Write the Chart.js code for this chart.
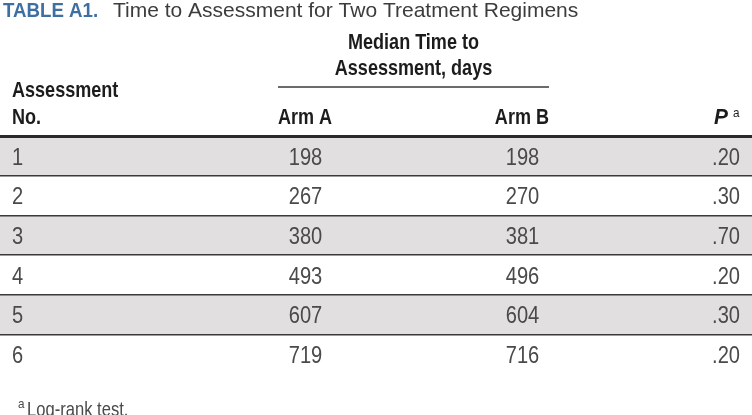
<!DOCTYPE html>
<html>
<head>
<meta charset="utf-8">
<script src="https://cdn.jsdelivr.net/npm/chart.js@4.4.0/dist/chart.umd.min.js"></script>
<style>
  html, body { margin: 0; padding: 0; background: #fff; }
  #wrap { width: 752px; height: 415px; }
</style>
</head>
<body>
<div id="wrap"><canvas id="tableChart" width="752" height="415"></canvas></div>
<script>
// Table values
const assessments = ['1', '2', '3', '4', '5', '6'];
const armA = [198, 267, 380, 493, 607, 719];
const armB = [198, 270, 381, 496, 604, 716];
const pValues = ['.20', '.30', '.70', '.20', '.30', '.20'];

// Texts
const titleLabel = 'TABLE A1.';
const titleText = 'Time to Assessment for Two Treatment Regimens';
const groupHeader = ['Median Time to', 'Assessment, days'];
const rowHeader = ['Assessment', 'No.'];
const armLabels = ['Arm A', 'Arm B'];
const footnote = 'Log-rank test.';

const family = "'Liberation Sans', Arial, sans-serif";
const NARROW = 0.82; // horizontal squeeze, Arial Narrow style
const colors = {
    title: '#3e6fa3',
    titleText: '#3c3c3c',
    head: '#1c1c1c',
    body: '#4a4a4a',
    shade: '#e1dfe0',
    rule: '#3a3a3a',
    thick: '#2a2a2a'
};

// column anchors as a fraction of the table width
const cols = {
    no: 12 / 752,
    armA: 305.5 / 752,
    armB: 522.5 / 752,
    p: 740 / 752,
    groupL: 278 / 752,
    groupR: 549 / 752,
    pLabel: 728 / 752
};

function drawText(ctx, text, x, y, font, align, sx) {
    ctx.save();
    ctx.translate(x, y);
    ctx.scale(sx, 1);
    ctx.font = font;
    ctx.textAlign = align;
    ctx.fillText(text, 0, 0);
    ctx.restore();
}

// Draws the header, cells and footnote on top of the row bands
const tableText = {
    id: 'tableText',
    afterDraw(chart) {
        const { ctx, scales: { x, y } } = chart;
        const px = f => x.getPixelForValue(f);
        ctx.save();
        ctx.textBaseline = 'alphabetic';

        // title
        ctx.fillStyle = colors.title;
        drawText(ctx, titleLabel, 3, 17, `bold 21px ${family}`, 'left', 0.89);
        ctx.fillStyle = colors.titleText;
        drawText(ctx, titleText, 113, 17, `21px ${family}`, 'left', 1);

        // header
        ctx.fillStyle = colors.head;
        const headFont = `bold 22px ${family}`;
        const groupMid = (px(cols.groupL) + px(cols.groupR)) / 2;
        drawText(ctx, groupHeader[0], groupMid, 49, headFont, 'center', NARROW);
        drawText(ctx, groupHeader[1], groupMid, 75, headFont, 'center', NARROW);

        ctx.strokeStyle = colors.rule;
        ctx.lineWidth = 1.5;
        ctx.beginPath();
        ctx.moveTo(px(cols.groupL), 87);
        ctx.lineTo(px(cols.groupR), 87);
        ctx.stroke();

        drawText(ctx, rowHeader[0], px(cols.no), 97, headFont, 'left', NARROW);
        drawText(ctx, rowHeader[1], px(cols.no), 124, headFont, 'left', NARROW);
        drawText(ctx, armLabels[0], px(cols.groupL), 124, headFont, 'left', NARROW);
        drawText(ctx, armLabels[1], px(cols.groupR), 124, headFont, 'right', NARROW);
        drawText(ctx, 'P', px(cols.pLabel), 124, `italic bold 22px ${family}`, 'right', 0.95);
        drawText(ctx, 'a', px(cols.pLabel) + 5, 117, `13px ${family}`, 'left', 0.9);

        // cells
        ctx.fillStyle = colors.body;
        const bodyFont = `24.5px ${family}`;
        assessments.forEach((no, i) => {
            const base = y.getPixelForValue(i) + 8.8;
            drawText(ctx, no, px(cols.no), base, bodyFont, 'left', NARROW);
            drawText(ctx, String(armA[i]), px(cols.armA), base, bodyFont, 'center', NARROW);
            drawText(ctx, String(armB[i]), px(cols.armB), base, bodyFont, 'center', NARROW);
            drawText(ctx, pValues[i], px(cols.p), base, bodyFont, 'right', NARROW);
        });

        // footnote
        drawText(ctx, 'a', 18, 408, `13px ${family}`, 'left', 0.9);
        drawText(ctx, footnote, 27, 416, `21px ${family}`, 'left', 0.79);

        ctx.restore();
    }
};

function initializeTable() {
    const canvas = document.getElementById('tableChart');
    new Chart(canvas, {
        type: 'bar',
        data: {
            labels: assessments,
            datasets: [{
                data: assessments.map(() => 1),
                backgroundColor: c => c.dataIndex % 2 === 0 ? colors.shade : '#ffffff',
                borderWidth: 0,
                barPercentage: 1,
                categoryPercentage: 1
            }]
        },
        options: {
            indexAxis: 'y',
            responsive: false,
            animation: false,
            events: [],
            layout: {
                padding: { top: 136, bottom: 41, left: 0, right: 0 }
            },
            plugins: {
                legend: { display: false },
                tooltip: { enabled: false },
                title: { display: false }
            },
            scales: {
                x: { display: false, min: 0, max: 1 },
                y: {
                    border: { display: false },
                    ticks: { display: false },
                    grid: {
                        z: 1,
                        offset: true,
                        drawTicks: false,
                        color: c => c.type === 'tick' ? (c.index === 0 ? colors.thick : colors.rule) : 'rgba(0,0,0,0)',
                        lineWidth: c => c.type === 'tick' && c.index === 0 ? 3 : 1.5
                    }
                }
            }
        },
        plugins: [tableText]
    });
}

document.addEventListener('DOMContentLoaded', initializeTable);
</script>
</body>
</html>
